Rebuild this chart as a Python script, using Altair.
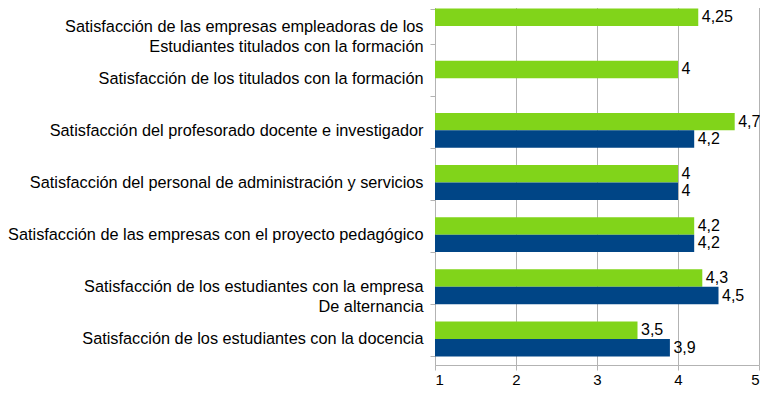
import altair as alt
import pandas as pd

NB = "\u00a0"
categories = [
    "Satisfacción de las empresas empleadoras de los" + NB + "|Estudiantes titulados con la formación" + NB * 10,
    "Satisfacción de los titulados con la formación",
    "Satisfacción del profesorado docente e investigador",
    "Satisfacción del personal de administración y servicios",
    "Satisfacción de las empresas con el proyecto pedagógico",
    "Satisfacción de los estudiantes con la empresa" + NB + "|De alternancia" + NB * 26,
    "Satisfacción de los estudiantes con la docencia",
]
green_values = [4.25, 4, 4.7, 4, 4.2, 4.3, 3.5]
blue_values = [None, None, 4.2, 4, 4.2, 4.5, 3.9]
series = ["verde", "azul"]
colors = ["#81d41a", "#004586"]
x_ticks = [1, 2, 3, 4, 5]

rows = []
for c, g, b in zip(categories, green_values, blue_values):
    for s, v in zip(series, [g, b]):
        if v is not None:
            lbl = ("%g" % v).replace(".", ",")
            rows.append({"cat": c, "serie": s, "valor": v, "etiqueta": lbl})
df = pd.DataFrame(rows)

FONT = "Liberation Sans"

y_enc = alt.Y(
    "cat:N",
    sort=categories,
    scale=alt.Scale(paddingInner=0.33, paddingOuter=0.165),
    axis=alt.Axis(
        title=None,
        labelExpr="split(datum.label, '|')",
        labelFontSize=16.3,
        labelFont=FONT,
        labelColor="#000000",
        labelLimit=0,
        labelPadding=7,
        labelLineHeight=20,
        tickBand="extent",
        tickSize=5,
        tickColor="#b3b3b3",
        domainColor="#b3b3b3",
        grid=False,
    ),
)
yoff = alt.YOffset("serie:N", sort=series, scale=alt.Scale(paddingInner=0, paddingOuter=0))

x_scale = alt.Scale(domain=[1, 5], zero=False, nice=False)

bars = alt.Chart(df).mark_bar().encode(
    y=y_enc,
    yOffset=yoff,
    x=alt.X(
        "valor:Q",
        scale=x_scale,
        axis=alt.Axis(
            title=None,
            values=x_ticks,
            format="d",
            grid=True,
            gridColor="#b3b3b3",
            domainColor="#b3b3b3",
            tickColor="#b3b3b3",
            tickSize=5,
            labelFontSize=15,
            labelFont=FONT,
            labelColor="#000000",
            labelPadding=2,
        ),
    ),
    x2=alt.datum(1),
    color=alt.Color("serie:N", scale=alt.Scale(domain=series, range=colors), legend=None),
)

labels = alt.Chart(df).mark_text(
    align="left", baseline="middle", dx=3.5, fontSize=16, font=FONT, color="#000000"
).encode(
    y=alt.Y("cat:N", sort=categories),
    yOffset=yoff,
    x=alt.X("valor:Q", scale=x_scale),
    text="etiqueta:N",
)

chart = (
    alt.layer(bars, labels)
    .properties(
        width=324,
        height=365,
        autosize=alt.AutoSizeParams(type="none"),
        padding={"left": 427, "top": -8, "right": 1, "bottom": 24},
    )
    .configure_view(strokeWidth=0)
)

chart.save("out.html", embed_options={"renderer": "svg", "actions": False})
